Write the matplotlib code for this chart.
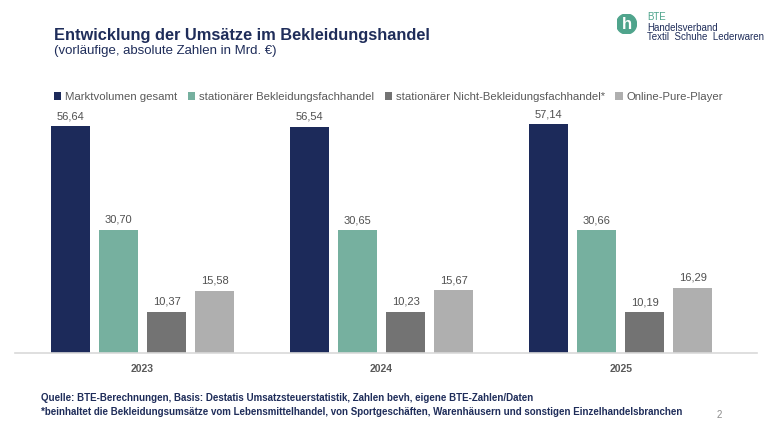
import matplotlib
matplotlib.use("Agg")
import matplotlib.pyplot as plt
import numpy as np
from matplotlib.patches import Circle

years = ["2023", "2024", "2025"]
series = ["Marktvolumen gesamt", "stationärer Bekleidungsfachhandel",
          "stationärer Nicht-Bekleidungsfachhandel*", "Online-Pure-Player"]
markt = [56.64, 56.54, 57.14]
fachhandel = [30.70, 30.65, 30.66]
nicht_fach = [10.37, 10.23, 10.19]
online = [15.58, 15.67, 16.29]
colors = ["#1c2a5a", "#76b09f", "#737373", "#afafaf"]

plt.rcParams['font.family'] = ['Liberation Sans', 'DejaVu Sans']
W, H = 768, 428
fig = plt.figure(figsize=(W / 100, H / 100), dpi=100)

def fx(px):
    return px / W

def fy(py):
    return 1 - py / H

# chart area: x 15..757 px, y 110..353 px
ax = fig.add_axes([fx(15), fy(353), fx(757) - fx(15), fy(110) - fy(353)])
x = np.arange(len(years))
step = 0.201
width = 0.162
values = [markt, fachhandel, nicht_fach, online]
for i, (vals, col, name) in enumerate(zip(values, colors, series)):
    pos = x + (i - 1.5) * step
    bars = ax.bar(pos, vals, width, color=col, label=name, zorder=2)
    for b, v in zip(bars, vals):
        ax.text(b.get_x() + b.get_width() / 2, v + 1.3, f"{v:.2f}".replace(".", ","),
                ha="center", va="bottom", fontsize=8, color="#505050")

ax.set_xlim(-0.533, 2.57)
ax.set_ylim(0, 60.75)
for s in ["top", "right", "left"]:
    ax.spines[s].set_visible(False)
ax.spines["bottom"].set_color("#d9d9d9")
ax.spines["bottom"].set_linewidth(1.2)
ax.set_yticks([])
ax.set_xticks(x)
ax.set_xticklabels(years, fontsize=7.5, fontweight="bold", color="#595959")
ax.tick_params(axis="x", length=0, pad=8)

# legend
leg = fig.legend(loc="center left", bbox_to_anchor=(fx(54), fy(97)), ncol=4,
                 frameon=False, fontsize=8.2, handlelength=0.65, handleheight=0.65,
                 handletextpad=0.35, columnspacing=0.9, borderaxespad=0, borderpad=0)
for t in leg.get_texts():
    t.set_color("#595959")

# title
fig.text(fx(54), fy(35.5), "Entwicklung der Umsätze im Bekleidungshandel",
         fontsize=11.8, fontweight="bold", color="#1f2d5a", va="center")
fig.text(fx(54), fy(51), "(vorläufige, absolute Zahlen in Mrd. €)",
         fontsize=9.5, color="#1f2d5a", va="center")

# logo
logo = fig.add_axes([fx(616.5), fy(34), fx(20), fy(14) - fy(34)])
logo.set_xlim(0, 1)
logo.set_ylim(0, 1)
logo.set_aspect("equal")
logo.axis("off")
logo.add_patch(Circle((0.5, 0.5), 0.5, color="#4fa48c"))
logo.text(0.5, 0.45, "h", ha="center", va="center", fontsize=12,
          fontweight="bold", color="white")
fig.text(fx(647), fy(17.5), "BTE", fontsize=7, color="#4fa48c", va="center")
fig.text(fx(647), fy(28), "Handelsverband", fontsize=7, color="#1f2d5a", va="center")
fig.text(fx(647), fy(37.5), "Textil  Schuhe  Lederwaren", fontsize=7,
         color="#1f2d5a", va="center")

# footer
fig.text(fx(41), fy(398), "Quelle: BTE-Berechnungen, Basis: Destatis Umsatzsteuerstatistik, "
         "Zahlen bevh, eigene BTE-Zahlen/Daten", fontsize=7.05, fontweight="bold",
         color="#1f2d5a", va="center")
fig.text(fx(41), fy(412), "*beinhaltet die Bekleidungsumsätze vom Lebensmittelhandel, "
         "von Sportgeschäften, Warenhäusern und sonstigen Einzelhandelsbranchen",
         fontsize=7.05, fontweight="bold", color="#1f2d5a", va="center")
fig.text(fx(717), fy(415), "2", fontsize=7, color="#8c8c8c", va="center")

fig.savefig("out.png", dpi=100)
